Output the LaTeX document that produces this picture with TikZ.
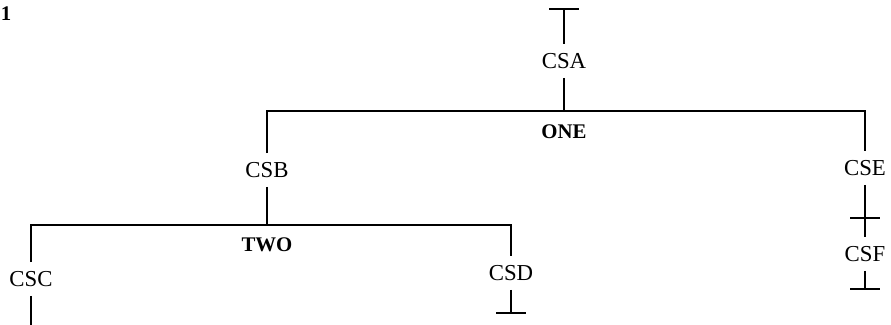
\documentclass[tikz,border=0pt]{standalone}
\usepackage{fontspec}
\setmainfont{Liberation Serif}
\usetikzlibrary{positioning}

\begin{document}
\begin{tikzpicture}[
  x=0.5pt, y=-0.5pt,
  line width=0.95pt,
  cs/.style={
    inner sep=0pt, minimum height=16pt,
    text height=7.5pt, text depth=0pt,
    font=\fontsize{11.4}{13}\selectfont,
  },
  level/.style={inner sep=0pt, font=\fontsize{10.4}{12}\selectfont\bfseries},
  tee/.style={line width=0.95pt}
]
\useasboundingbox (0,0) rectangle (891,325);
\node[level] (fignum) at (6,14) {1};

\node[cs] (csa) at (564,61)  {CSA};
\node[cs] (csb) at (267,170) {CSB};
\node[cs] (csc) at (31,279)  {CSC};
\node[cs] (csd) at (511,273) {CSD};
\node[cs] (cse) at (865,168) {CSE};
\node[cs] (csf) at (865,254) {CSF};

\coordinate (one)  at (564,111);
\coordinate (oneL) at (267,111);
\coordinate (oneR) at (865,111);
\coordinate (two)  at (267,225);
\coordinate (twoL) at (31,225);
\coordinate (twoR) at (511,225);
\node[level] (onelabel) at (564,132) {ONE};
\node[level] (twolabel) at (267,245) {TWO};

\coordinate (csatop) at (564,9);
\coordinate (cseend) at (865,218);
\coordinate (csfend) at (865,289);
\coordinate (csdend) at (511,313);
\coordinate (cscend) at (31,325.5);

% structure
\draw (csatop) -- (csa.north);
\draw (csa.south) -- (one);
\draw (csb.north) -- (oneL) -- (oneR) -- (cse.north);
\draw (csb.south) -- (two);
\draw (csc.north) -- (twoL) -- (twoR) -- (csd.north);
\draw (cse.south) -- (csf.north);
\draw (csc.south) -- (cscend);
\draw (csd.south) -- (csdend);
\draw (csf.south) -- (csfend);

% end bars
\foreach \p in {csatop, cseend, csfend, csdend, cscend}
  \draw[tee] ([xshift=-7.5pt]\p) -- ([xshift=7.5pt]\p);
\end{tikzpicture}
\end{document}
